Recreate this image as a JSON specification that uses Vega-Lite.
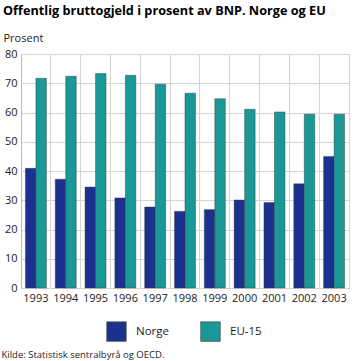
{
  "$schema": "https://vega.github.io/schema/vega-lite/v6.json",
  "width": 328,
  "height": 234,
  "autosize": {"type": "none"},
  "padding": {"left": 21, "top": 54, "right": 6, "bottom": 73},
  "background": "white",
  "title": {
    "text": "Offentlig bruttogjeld i prosent av BNP. Norge og EU",
    "anchor": "start",
    "frame": "group",
    "dx": -18,
    "offset": 14,
    "font": "Open Sans",
    "fontSize": 12.7,
    "fontWeight": "bold",
    "color": "#000000"
  },
  "data": {
    "values": [
      {"year": "1993", "series": "Norge", "value": 40.9},
      {"year": "1993", "series": "EU-15", "value": 71.7},
      {"year": "1994", "series": "Norge", "value": 37.2},
      {"year": "1994", "series": "EU-15", "value": 72.4},
      {"year": "1995", "series": "Norge", "value": 34.5},
      {"year": "1995", "series": "EU-15", "value": 73.3},
      {"year": "1996", "series": "Norge", "value": 30.8},
      {"year": "1996", "series": "EU-15", "value": 72.7},
      {"year": "1997", "series": "Norge", "value": 27.7},
      {"year": "1997", "series": "EU-15", "value": 69.7},
      {"year": "1998", "series": "Norge", "value": 26.2},
      {"year": "1998", "series": "EU-15", "value": 66.6},
      {"year": "1999", "series": "Norge", "value": 26.8},
      {"year": "1999", "series": "EU-15", "value": 64.7},
      {"year": "2000", "series": "Norge", "value": 30.1},
      {"year": "2000", "series": "EU-15", "value": 61.1},
      {"year": "2001", "series": "Norge", "value": 29.2},
      {"year": "2001", "series": "EU-15", "value": 60.2},
      {"year": "2002", "series": "Norge", "value": 35.6},
      {"year": "2002", "series": "EU-15", "value": 59.4},
      {"year": "2003", "series": "Norge", "value": 45.0},
      {"year": "2003", "series": "EU-15", "value": 59.4}
    ]
  },
  "mark": {"type": "bar", "stroke": "#333333", "strokeWidth": 0.6, "strokeOpacity": 0.7},
  "encoding": {
    "x": {
      "field": "year",
      "type": "nominal",
      "scale": {"paddingInner": 0, "paddingOuter": 0},
      "axis": {
        "title": "Kilde: Statistisk sentralbyrå og OECD.",
        "titleAnchor": "start",
        "titleAlign": "left",
        "titleBaseline": "alphabetic",
        "titleX": -20,
        "titleY": 69,
        "titleFont": "Open Sans",
        "titleFontSize": 9.5,
        "titleFontWeight": "normal",
        "titleColor": "#222222",
        "labelAngle": 0,
        "labelFont": "Open Sans",
        "labelFontSize": 11,
        "labelColor": "#222222",
        "labelPadding": 4,
        "labelOverlap": false,
        "ticks": false,
        "domain": false,
        "grid": true,
        "bandPosition": 0,
        "gridColor": "#d4d4d4",
        "gridWidth": 1
      }
    },
    "xOffset": {
      "field": "series",
      "type": "nominal",
      "sort": ["Norge", "EU-15"],
      "scale": {"paddingInner": 0, "paddingOuter": 0.42}
    },
    "y": {
      "field": "value",
      "type": "quantitative",
      "scale": {"domain": [0, 80]},
      "axis": {
        "title": "Prosent",
        "titleAngle": 0,
        "titleAlign": "left",
        "titleBaseline": "alphabetic",
        "titleX": -18,
        "titleY": -13,
        "titleFont": "Open Sans",
        "titleFontSize": 11,
        "titleFontWeight": "normal",
        "titleColor": "#222222",
        "values": [0, 10, 20, 30, 40, 50, 60, 70, 80],
        "labelOverlap": false,
        "labelFlush": false,
        "labelFont": "Open Sans",
        "labelFontSize": 11,
        "labelColor": "#222222",
        "labelPadding": 4,
        "ticks": false,
        "domain": true,
        "domainColor": "#bdbdbd",
        "grid": true,
        "gridColor": "#d4d4d4",
        "gridWidth": 1
      }
    },
    "color": {
      "field": "series",
      "type": "nominal",
      "sort": ["Norge", "EU-15"],
      "scale": {"domain": ["Norge", "EU-15"], "range": ["#1c318f", "#1a9797"]},
      "legend": {
        "title": null,
        "orient": "none",
        "direction": "horizontal",
        "legendX": 85,
        "legendY": 267,
        "symbolType": "square",
        "symbolSize": 380,
        "symbolStrokeWidth": 0.8,
        "symbolStrokeColor": "#555555",
        "labelFont": "Open Sans",
        "labelFontSize": 11.5,
        "labelColor": "#222222",
        "labelOffset": 9,
        "columnPadding": 30
      }
    }
  },
  "config": {
    "view": {"stroke": "#d4d4d4", "strokeWidth": 1}
  }
}
